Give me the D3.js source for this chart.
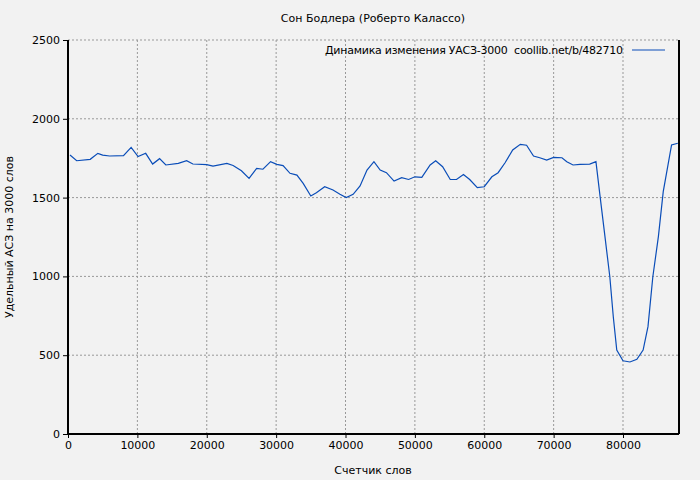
<!DOCTYPE html><html><head><meta charset="utf-8"><script src="https://cdn.jsdelivr.net/npm/d3@7"></script>
<style>body{margin:0;background:#f2f2f2}text{font-family:"DejaVu Sans",sans-serif;font-size:11px;fill:#000;white-space:pre}</style></head><body><svg width="700" height="480"></svg><script>
const xs=[290,1250,3200,4300,5000,6000,8000,9100,10100,11200,12200,13200,14100,15900,17100,18000,20000,20900,22900,23800,25000,26100,27200,28100,29200,30100,31000,32000,33000,33900,35000,35800,37000,38200,39200,40100,41100,42100,43100,44100,45000,45900,47000,48100,49100,50000,51000,52200,53000,54000,55100,56000,57000,57900,59000,60000,61100,62000,63000,64100,65200,66100,67100,68000,69000,70000,71200,71900,72800,73800,75200,76100,76700,77400,78100,78600,79100,80000,81000,82000,82900,83600,84300,85100,85800,87000,87900];
const ys=[1770,1734,1743,1781,1770,1764,1766,1819,1760,1781,1713,1747,1707,1717,1734,1713,1709,1700,1717,1704,1670,1622,1686,1680,1728,1711,1703,1654,1643,1590,1510,1531,1569,1548,1521,1500,1521,1574,1675,1728,1675,1658,1605,1626,1615,1632,1628,1707,1734,1696,1615,1615,1647,1615,1563,1569,1632,1658,1721,1802,1838,1832,1764,1753,1738,1755,1753,1728,1707,1711,1713,1728,1506,1252,998,744,533,465,457,474,533,681,998,1252,1538,1834,1845];
const xTicks=[0,10000,20000,30000,40000,50000,60000,70000,80000];
const yTicks=[0,500,1000,1500,2000,2500];
const svg=d3.select("svg");
const L=68,R=679,T=40,B=434;
const x=d3.scaleLinear().domain([0,88072]).range([L,R]);
const y=d3.scaleLinear().domain([0,2500]).range([B,T]);
const g=svg.append("g");
g.selectAll(".gx").data(xTicks.slice(1)).join("line").attr("x1",d=>x(d)).attr("x2",d=>x(d)).attr("y1",T).attr("y2",B).attr("stroke","#999").attr("stroke-dasharray","2,2");
g.selectAll(".gy").data(yTicks.slice(1)).join("line").attr("x1",L).attr("x2",R).attr("y1",d=>y(d)).attr("y2",d=>y(d)).attr("stroke","#999").attr("stroke-dasharray","2,2");
const xa=svg.append("g").attr("transform",`translate(0,${B})`).call(d3.axisBottom(x).tickValues(xTicks).tickFormat(d3.format("d")).tickSize(4));
const ya=svg.append("g").attr("transform",`translate(${L},0)`).call(d3.axisLeft(y).tickValues(yTicks).tickFormat(d3.format("d")).tickSize(5));
[xa,ya].forEach(a=>{a.select(".domain").remove();a.selectAll("text").style("font-family","DejaVu Sans").style("font-size","11px");});
svg.append("line").attr("x1",L).attr("x2",L).attr("y1",T).attr("y2",B).attr("stroke","#000").attr("stroke-width",2);
svg.append("line").attr("x1",L).attr("x2",R).attr("y1",B).attr("y2",B).attr("stroke","#000").attr("stroke-width",2);
svg.append("line").attr("x1",R).attr("x2",R).attr("y1",T).attr("y2",B).attr("stroke","#000").attr("stroke-width",2);
svg.append("path").datum(xs.map((v,i)=>[v,ys[i]])).attr("d",d3.line().x(d=>x(d[0])).y(d=>y(d[1]))).attr("fill","none").attr("stroke","#0a4db8").attr("stroke-width",1.2);
svg.append("text").attr("x",373).attr("y",22).attr("text-anchor","middle").text("Сон Бодлера (Роберто Калассо)");
svg.append("text").attr("x",373).attr("y",474).attr("text-anchor","middle").text("Счетчик слов");
svg.append("text").attr("transform","translate(13,237) rotate(-90)").attr("text-anchor","middle").text("Удельный АСЗ на 3000 слов");
svg.append("text").attr("x",623).attr("y",54).attr("text-anchor","end").attr("textLength",298).text("Динамика изменения УАСЗ-3000  coollib.net/b/482710");
svg.append("line").attr("x1",632).attr("x2",665).attr("y1",50).attr("y2",50).attr("stroke","#0a4db8").attr("stroke-width",1.2);
</script></body></html>
